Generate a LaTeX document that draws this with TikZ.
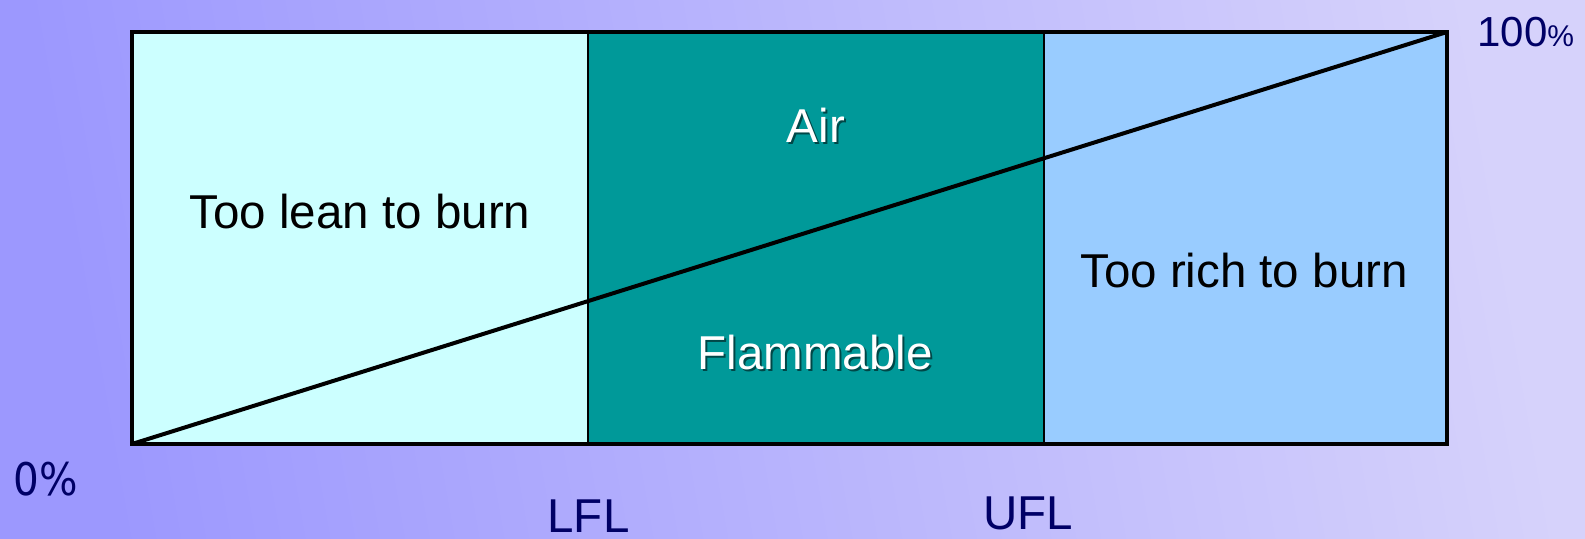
\documentclass[tikz,border=0pt]{standalone}
\usepackage{fontspec}
\setmainfont{Liberation Sans}
\newfontfamily\dejavu{DejaVu Sans}
\definecolor{bgleft}{HTML}{9C98FE}
\definecolor{bgright}{HTML}{D6D2FB}
\definecolor{leancol}{HTML}{CCFFFF}
\definecolor{flamcol}{HTML}{009999}
\definecolor{richcol}{HTML}{99CCFF}
\definecolor{navy}{HTML}{000066}
\definecolor{shadowcol}{HTML}{003333}
\begin{document}
\begin{tikzpicture}[x=0.5pt,y=-0.5pt,
  region/.style={draw=black, line width=1pt, inner sep=0pt, minimum height=205pt, anchor=north west},
  boxtext/.style={inner sep=0pt, anchor=base, font=\fontsize{23.75}{28}\selectfont},
  axislabel/.style={inner sep=0pt, text=navy, font=\fontsize{23.75}{28}\selectfont},
  shadowtext/.style={boxtext, text=shadowcol, opacity=0.8},
  whitetext/.style={boxtext, text=white}]
\useasboundingbox (0,0) rectangle (1585,539);
\shade[left color=bgleft, right color=bgright, shading angle=100] (0,0) rectangle (1585,539);
% regions
\node[region, fill=leancol, minimum width=227.5pt] (lean) at (132,32) {};
\node[region, fill=flamcol, minimum width=228pt] (flam) at (587,32) {};
\node[region, fill=richcol, minimum width=201pt] (rich) at (1043,32) {};
\draw[line width=1.6pt] (lean.north west) rectangle (rich.south east);
% diagonal
\draw[line width=2pt] (lean.south west) -- (rich.north east);
% labels in the box
\node[boxtext] (leantxt) at (360,229) {Too lean to burn};
\node[boxtext] (richtxt) at (1244,288) {Too rich to burn};
\node[shadowtext] (airsh) at (818,145) {Air};
\node[whitetext] (air) at (816,143) {Air};
\node[shadowtext] (flamsh) at (817,372) {Flammable};
\node[whitetext] (flamtxt) at (815,370) {Flammable};
% axis labels
\node[axislabel, anchor=base west, font=\dejavu\fontsize{22.5}{26}\selectfont, xscale=0.9] (zero) at (13,495) {0\%};
\node[axislabel, anchor=base] (lfl) at (588.5,532) {LFL};
\node[axislabel, anchor=base] (ufl) at (1028.5,530) {UFL};
\node[axislabel, anchor=base west, font=\fontsize{21}{25}\selectfont] (hundred) at (1477,47) {100{\fontsize{15}{18}\selectfont\%}};
\end{tikzpicture}
\end{document}
